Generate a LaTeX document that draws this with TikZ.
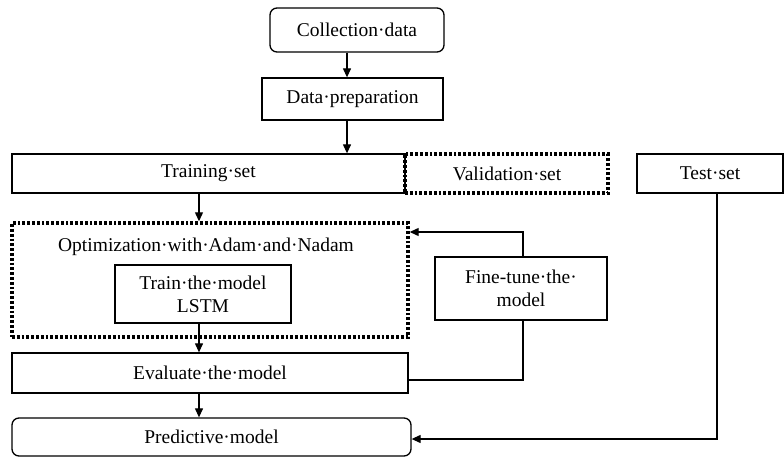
\documentclass[tikz,border=0pt]{standalone}
\usepackage{fontspec}
\setmainfont{Liberation Serif}
\usetikzlibrary{arrows.meta}
\begin{document}
\begin{tikzpicture}[x=1pt,y=-1pt,
  box/.style={draw, line width=1.3pt, rectangle, inner sep=0pt, align=center,
    font=\fontsize{19.5}{23}\selectfont},
  rbox/.style={box, rounded corners=7pt},
  dotbox/.style={draw, line width=3.4pt, dash pattern=on 2.8pt off 2pt, rectangle, inner sep=0pt},
  lbl/.style={inner sep=0pt, align=center, font=\fontsize{19.5}{23}\selectfont},
  conn/.style={line width=1.2pt},
  arr/.style={conn, -{Triangle[length=9pt,width=8pt]}}]
\useasboundingbox (0,0) rectangle (784,457);
\node[rbox, minimum width=174pt, minimum height=44pt] (coll) at (357,30) {Collection·data};
\node[box, minimum width=181pt, minimum height=42pt] (prep) at (352.5,99) {Data·preparation};
\node[box, minimum width=393pt, minimum height=39pt] (train) at (208.5,173.5) {Training·set};
\node[box, minimum width=146pt, minimum height=39pt] (test) at (710,173.5) {Test·set};
\node[dotbox, minimum width=203pt, minimum height=39pt] (valid) at (506.5,173.5) {};
\node[lbl] (validl) at (507,174) {Validation·set};
\node[dotbox, minimum width=396pt, minimum height=114pt] (opt) at (210,280) {};
\node[lbl] (optl) at (206,247) {Optimization·with·Adam·and·Nadam};
\node[box, minimum width=176pt, minimum height=58pt] (lstm) at (203,294) {Train·the·model\\LSTM};
\node[box, minimum width=172pt, minimum height=63pt] (fine) at (521,288.5) {Fine-tune·the·\\model};
\node[box, minimum width=396pt, minimum height=40pt] (eval) at (210,373) {Evaluate·the·model};
\node[rbox, minimum width=399pt, minimum height=38pt] (pred) at (211.5,437) {Predictive·model};
\coordinate (xa) at (347,0);
\coordinate (xb) at (199,0);
\coordinate (xt) at (717,0);
\coordinate (xf) at (523,0);
\coordinate (yf) at (0,232);
\coordinate (ye) at (0,380);
\coordinate (yp) at (0,439);
\draw[arr] (coll.south -| xa) -- (prep.north -| xa);
\draw[arr] (prep.south -| xa) -- (train.north -| xa);
\draw[arr] (train.south -| xb) -- (opt.north -| xb);
\draw[arr] (lstm.south -| xb) -- (eval.north -| xb);
\draw[arr] (eval.south -| xb) -- (pred.north -| xb);
\draw[arr] (test.south -| xt) |- (pred.east |- yp);
\draw[arr] (fine.north -| xf) |- (opt.east |- yf);
\draw[conn] (eval.east |- ye) -| (fine.south -| xf);
\end{tikzpicture}
\end{document}
